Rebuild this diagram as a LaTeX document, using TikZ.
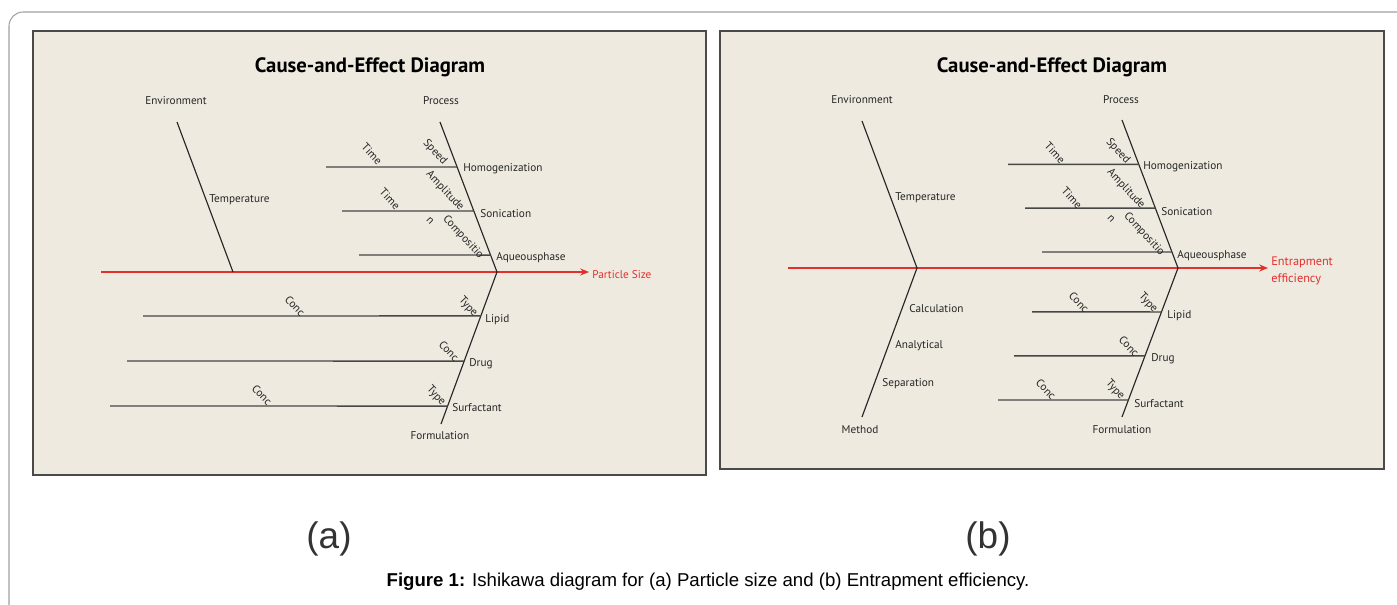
\documentclass[tikz,border=0pt]{standalone}
\usepackage{fontspec}
\setmainfont{Liberation Sans}
\newfontfamily\diafont{PT Sans}
\usetikzlibrary{arrows.meta,calc}

\definecolor{panelbg}{HTML}{EEEAE0}
\definecolor{panelline}{HTML}{4A4A4A}
\definecolor{framegray}{HTML}{A0A0A0}
\definecolor{spinered}{HTML}{E3302C}
\definecolor{inkgray}{HTML}{262626}

\tikzset{
  title/.style={font=\diafont\bfseries\fontsize{11.8}{13}\selectfont, text=black, inner sep=0pt},
  lbl/.style={font=\diafont\fontsize{6.4}{7.5}\selectfont, text=inkgray, inner sep=0pt, anchor=west},
  head/.style={lbl, anchor=center},
  twiglbl/.style={lbl, anchor=center, rotate=-47},
  effect/.style={lbl, text=spinered, align=left},
  bone/.style={draw=black!85, line width=0.65pt},
  twig/.style={draw=black!72, line width=0.8pt},
  spine/.style={draw=spinered, line width=0.7pt, -{Stealth[length=5pt,width=4pt]}},
  tag/.style={font=\fontsize{21}{24}\selectfont, text=black!80},
  caption/.style={font=\fontsize{10.6}{12}\selectfont, text=black}
}

\begin{document}
\begin{tikzpicture}[x=0.02cm,y=-0.02cm]

  \useasboundingbox (0,0) rectangle (1397,605);

  \def\panelA{(33,31) rectangle (706,475)}
  \def\panelB{(720,31) rectangle (1384,469)}

  \draw[framegray, line width=0.6pt, rounded corners=8] (1397,12) -- (9,12) -- (9,605);

  % panel (a): particle size
  \begin{scope}
      \fill[panelbg] \panelA;
      \draw[panelline, line width=0.8pt] \panelA;

      \node[title] (titleA) at (370,67) {Cause-and-Effect Diagram};
      \node[head] (envA) at (176,101) {Environment};
      \node[head] (procA) at (441,101) {Process};
      \node[head] (formA) at (440,436) {Formulation};

      \coordinate (tailA) at (101,272);
      \coordinate (tipA) at (589,272);
      \coordinate (envTopA) at (177,122);
      \coordinate (envJoinA) at (233,272);
      \coordinate (procTopA) at (440,122);
      \coordinate (joinA) at (497,272);
      \coordinate (formBotA) at (441,424);

      \draw[spine] (tailA) -- (tipA);
      \node[effect] (effA) at (592,275) {Particle Size};

      \draw[bone] (envTopA) -- (envJoinA);
      \draw[bone] (procTopA) -- (joinA) -- (formBotA);
      \node[lbl] (tempA) at (209,200) {Temperature};

      \coordinate (homA) at ($(procTopA)!0.3!(joinA)$);
      \coordinate (sonA) at ($(procTopA)!0.593!(joinA)$);
      \coordinate (aquA) at ($(procTopA)!0.887!(joinA)$);
      \coordinate (lipA) at ($(joinA)!0.289!(formBotA)$);
      \coordinate (drgA) at ($(joinA)!0.586!(formBotA)$);
      \coordinate (surA) at ($(joinA)!0.882!(formBotA)$);

      \draw[twig] (326,167) coordinate (homEndA) -- (homA);
      \draw[twig] (342,211) coordinate (sonEndA) -- (sonA);
      \draw[twig] (359,255) coordinate (aquEndA) -- (aquA);
      \draw[twig] (143,316) coordinate (lipEndA) -- (lipA);
      \draw[twig] (127,361) coordinate (drgEndA) -- (drgA);
      \draw[twig] (110,406) coordinate (surEndA) -- (surA);

      \node[lbl] (homLblA) at (463,169) {Homogenization};
      \node[lbl] (sonLblA) at (480,214) {Sonication};
      \node[lbl] (aquLblA) at (496,258) {Aqueousphase};
      \node[lbl] (lipLblA) at (485,320) {Lipid};
      \node[lbl] (drgLblA) at (469,364) {Drug};
      \node[lbl] (surLblA) at (452,408) {Surfactant};

      \node[twiglbl] (timeHA) at (372,154) {Time};
      \node[twiglbl] (speedA) at (435,152) {Speed};
      \node[twiglbl] (ampA) at (445,191) {Amplitude};
      \node[twiglbl] (timeSA) at (390,199) {Time};
      \node[twiglbl] (compNA) at (430,221) {n};
      \node[twiglbl] (compA) at (463,237) {Compositio};
      \node[twiglbl] (concLA) at (295,306) {Conc};
      \node[twiglbl] (typeLA) at (468,307) {Type};
      \node[twiglbl] (concDA) at (449,351) {Conc};
      \node[twiglbl] (concSA) at (262,395) {Conc};
      \node[twiglbl] (typeSA) at (436,396) {Type};
  \end{scope}

  % panel (b): entrapment efficiency
  \begin{scope}
      \fill[panelbg] \panelB;
      \draw[panelline, line width=0.8pt] \panelB;

      \node[title] (titleB) at (1052,67) {Cause-and-Effect Diagram};
      \node[head] (envB) at (862,100) {Environment};
      \node[head] (procB) at (1121,100) {Process};
      \node[head] (methB) at (860,430) {Method};
      \node[head] (formB) at (1122,430) {Formulation};

      \coordinate (tailB) at (788,268);
      \coordinate (tipB) at (1268,268);
      \coordinate (envTopB) at (862,121);
      \coordinate (envJoinB) at (917,268);
      \coordinate (methBotB) at (862,417);
      \coordinate (procTopB) at (1122,120);
      \coordinate (joinB) at (1178,268);
      \coordinate (formBotB) at (1122,417);

      \draw[spine] (tailB) -- (tipB);
      \node[effect, anchor=north west, font=\diafont\fontsize{7}{9.6}\selectfont] (effB) at (1271,257) {Entrapment\\efficiency};

      \draw[bone] (envTopB) -- (envJoinB) -- (methBotB);
      \draw[bone] (procTopB) -- (joinB) -- (formBotB);
      \node[lbl] (tempB) at (895,198) {Temperature};
      \node[lbl] (calcB) at (909,309) {Calculation};
      \node[lbl] (analB) at (895,346) {Analytical};
      \node[lbl] (sepB) at (882,384) {Separation};

      \coordinate (homB) at ($(procTopB)!0.3!(joinB)$);
      \coordinate (sonB) at ($(procTopB)!0.595!(joinB)$);
      \coordinate (aquB) at ($(procTopB)!0.892!(joinB)$);
      \coordinate (lipB) at ($(joinB)!0.295!(formBotB)$);
      \coordinate (drgB) at ($(joinB)!0.59!(formBotB)$);
      \coordinate (surB) at ($(joinB)!0.886!(formBotB)$);

      \draw[twig] (1008,164.4) coordinate (homEndB) -- (homB);
      \draw[twig] (1025,208.1) coordinate (sonEndB) -- (sonB);
      \draw[twig] (1042,252) coordinate (aquEndB) -- (aquB);
      \draw[twig] (1032,311.9) coordinate (lipEndB) -- (lipB);
      \draw[twig] (1014,355.9) coordinate (drgEndB) -- (drgB);
      \draw[twig] (998,400) coordinate (surEndB) -- (surB);

      \node[lbl] (homLblB) at (1143,167) {Homogenization};
      \node[lbl] (sonLblB) at (1161,212) {Sonication};
      \node[lbl] (aquLblB) at (1177,256) {Aqueousphase};
      \node[lbl] (lipLblB) at (1167,316) {Lipid};
      \node[lbl] (drgLblB) at (1151,359) {Drug};
      \node[lbl] (surLblB) at (1134,404) {Surfactant};

      \node[twiglbl] (timeHB) at (1055,153) {Time};
      \node[twiglbl] (speedB) at (1118,151) {Speed};
      \node[twiglbl] (ampB) at (1126,189) {Amplitude};
      \node[twiglbl] (timeSB) at (1072,198) {Time};
      \node[twiglbl] (compNB) at (1111,219) {n};
      \node[twiglbl] (compB) at (1144,234) {Compositio};
      \node[twiglbl] (concLB) at (1079,302) {Conc};
      \node[twiglbl] (typeLB) at (1148,303) {Type};
      \node[twiglbl] (concDB) at (1129,346) {Conc};
      \node[twiglbl] (concSB) at (1046,389) {Conc};
      \node[twiglbl] (typeSB) at (1115,390) {Type};
  \end{scope}

  \node[tag] (tagA) at (329,539) {(a)};
  \node[tag] (tagB) at (988,539) {(b)};
  \node[caption] (cap) at (708,582) {\textbf{Figure 1:} Ishikawa diagram for (a) Particle size and (b) Entrapment efficiency.};

\end{tikzpicture}
\end{document}
